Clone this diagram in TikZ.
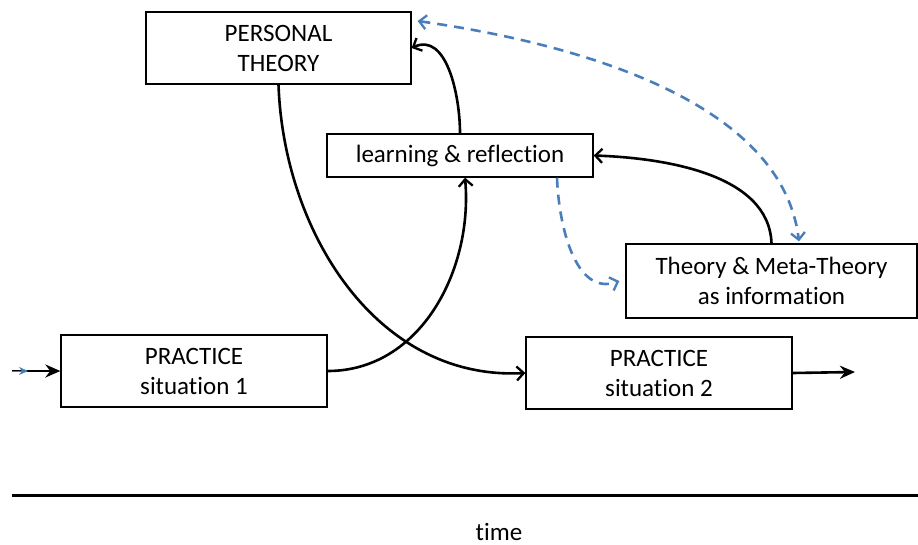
\documentclass[tikz,border=0pt]{standalone}
\usepackage{fontspec}
\setmainfont{Carlito}[Ligatures=NoCommon]
\usepackage{xcolor}
\usetikzlibrary{arrows.meta}
\definecolor{dashblue}{RGB}{74,126,187}

\begin{document}
\begin{tikzpicture}[x=1pt,y=-1pt,semithick,font=\fontsize{25}{30}\selectfont]
          \tikzstyle{box}=[draw=black,line width=1.3pt,fill=white,text=black,align=center,inner sep=0pt]
          \tikzstyle{flow}=[line width=2.6pt,-{Straight Barb[length=7pt,width=14pt,line width=2.3pt]}]
          \tikzstyle{info}=[dashblue,line width=2.6pt,dash pattern=on 10pt off 7pt,{Straight Barb[length=7pt,width=14pt,line width=2.3pt]}-{Straight Barb[length=7pt,width=14pt,line width=2.3pt]}]
          \tikzstyle{push}=[line width=2.6pt,-{Stealth[length=15pt,width=13pt]}]

          \useasboundingbox (0,0) rectangle (918,544);

          \node[box,minimum width=265pt,minimum height=72pt] (theory) at (278.5,48) {PERSONAL\\THEORY};
          \node[box,minimum width=266pt,minimum height=43pt] (reflect) at (460,155.5) {learning \& reflection};
          \node[box,minimum width=291pt,minimum height=74pt] (meta) at (771.5,281) {Theory \& Meta-Theory\\as information};
          \node[box,minimum width=266pt,minimum height=72pt] (prac1) at (194,371) {PRACTICE\\situation 1};
          \node[box,minimum width=266pt,minimum height=72pt] (prac2) at (659,373) {PRACTICE\\situation 2};
          \node[anchor=base,inner sep=0pt] (time) at (499,540) {time};

          \coordinate (in) at (12,371);
          \coordinate (out) at (855,372);
          \coordinate (axisL) at (12,495);
          \coordinate (axisR) at (918,495);

          % cycle
          \draw[flow] (theory.south) to[out=-88,in=183] (prac2.west);
          \draw[flow] (prac1.east) to[out=0,in=-85] ([xshift=5pt]reflect.south);
          \draw[flow] (reflect.north) to[out=90,in=25] (theory.east);
          \draw[flow] (meta.north) to[out=92,in=-2,looseness=0.9] (reflect.east);

          % information
          \draw[info] ([xshift=6pt,yshift=27pt]theory.east) to[out=-8,in=97,looseness=0.85] ([xshift=27.5pt,yshift=2pt]meta.north);
          \draw[info,-{Straight Barb[length=7pt,width=14pt,line width=2.3pt]}] ([xshift=97pt]reflect.south) to[out=-88,in=200] ([xshift=-6pt]meta.west);

          \draw[push] (in) -- (prac1.west);
          \draw[dashblue,-{Stealth[length=9pt,width=8pt]}] (in) -- ([xshift=16pt]in);
          \draw[push] (prac2.east) -- (out);

          \draw[line width=3pt] (axisL) -- (axisR);
        \end{tikzpicture}
\end{document}
